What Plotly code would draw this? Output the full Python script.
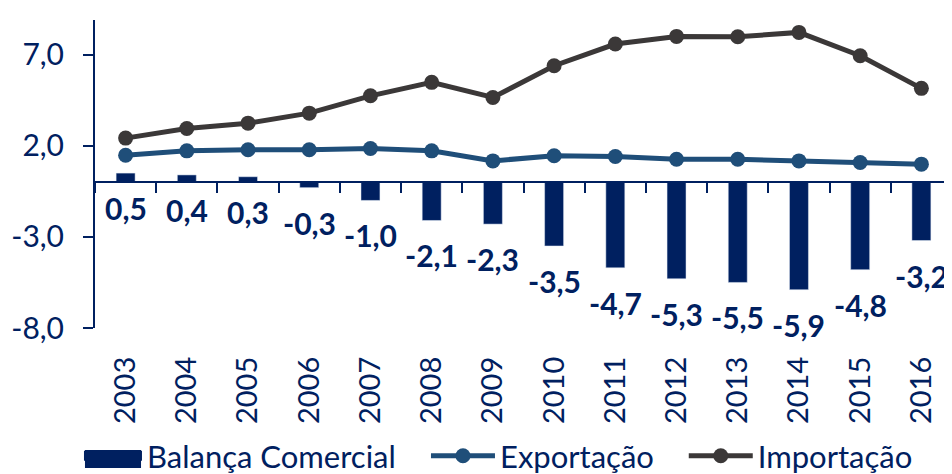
import plotly.graph_objects as go

years = ["2003", "2004", "2005", "2006", "2007", "2008", "2009", "2010",
         "2011", "2012", "2013", "2014", "2015", "2016"]
balanca = [0.5, 0.4, 0.3, -0.3, -1.0, -2.1, -2.3, -3.5, -4.7, -5.3, -5.5, -5.9, -4.8, -3.2]
exportacao = [1.48, 1.72, 1.78, 1.78, 1.85, 1.72, 1.17, 1.45, 1.41, 1.26, 1.26, 1.17, 1.08, 0.99]
importacao = [2.42, 2.95, 3.24, 3.79, 4.74, 5.48, 4.65, 6.39, 7.58, 8.0, 7.98, 8.22, 6.94, 5.15]
y_ticks = [-8, -3, 2, 7]


def fmt(v):
    return f"{v:.1f}".replace(".", ",")


NAVY = "#002060"
EXP = "#1F4E79"
IMP = "#3B3838"
FONT = "Lato"

fig = go.Figure()
fig.add_trace(go.Bar(x=years, y=balanca, marker_color=NAVY, width=0.31,
                     name="Balança Comercial", showlegend=False))
# legend entry for the bars
fig.add_trace(go.Scatter(x=[None], y=[None], mode="lines", name="Balança Comercial",
                         line=dict(color=NAVY, width=18), legend="legend"))
fig.add_trace(go.Scatter(x=years, y=exportacao, mode="lines+markers", name="Exportação",
                         line=dict(color=EXP, width=5), marker=dict(size=15, color=EXP),
                         legend="legend2"))
fig.add_trace(go.Scatter(x=years, y=importacao, mode="lines+markers", name="Importação",
                         line=dict(color=IMP, width=5), marker=dict(size=15, color=IMP),
                         legend="legend3"))

for i, v in enumerate(balanca):
    fig.add_annotation(x=i, y=v, xref="x", yref="y", yshift=-35, showarrow=False,
                       text="<b>" + fmt(v) + "</b>",
                       font=dict(family=FONT, size=30, color=NAVY))

# thicker swatch for the bar legend entry (legend decoration)
fig.add_shape(type="rect", xref="paper", yref="paper",
              x0=-0.0117, x1=0.0537, y0=-0.4545, y1=-0.396,
              fillcolor=NAVY, line=dict(width=0), layer="above")

ymin, ymax = -8, 8.9
legend_common = dict(orientation="h", xanchor="left", y=-0.416, yanchor="middle",
                     font=dict(size=31, color=NAVY, family=FONT),
                     bgcolor="rgba(0,0,0,0)")
fig.update_layout(
    width=944, height=466,
    margin=dict(l=87, r=0, t=12, b=146, autoexpand=False),
    paper_bgcolor="white", plot_bgcolor="white",
    font=dict(family=FONT, color=NAVY),
    xaxis=dict(type="category", range=[-0.5, 13.5], showline=False, ticks="",
               tickangle=-90, tickfont=dict(size=29, color=NAVY), showgrid=False,
               zeroline=False, ticklabelstandoff=22),
    xaxis2=dict(overlaying="x", anchor="free", position=(0 - ymin) / (ymax - ymin),
                range=[-0.5, 13.5], tickvals=[i - 0.5 for i in range(15)],
                showticklabels=False, ticks="outside", ticklen=10, tickwidth=2,
                tickcolor=NAVY, showline=True, linecolor=NAVY, linewidth=2,
                showgrid=False, zeroline=False),
    yaxis=dict(range=[ymin, ymax], tickvals=y_ticks, ticktext=[fmt(t) for t in y_ticks],
               showgrid=False, zeroline=False, showline=True, linecolor=NAVY,
               linewidth=2, ticks="outside", ticklen=10, tickwidth=2, tickcolor=NAVY,
               tickfont=dict(size=30, color=NAVY), ticklabelstandoff=13),
    legend=dict(x=-0.0187, itemwidth=58, **legend_common),
    legend2=dict(x=0.3862, itemwidth=64, **legend_common),
    legend3=dict(x=0.687, itemwidth=64, **legend_common),
)
fig.add_trace(go.Scatter(x=[0], y=[0], xaxis="x2", mode="markers",
                         marker=dict(opacity=0), showlegend=False, hoverinfo="skip"))
fig.write_html("out.html")
